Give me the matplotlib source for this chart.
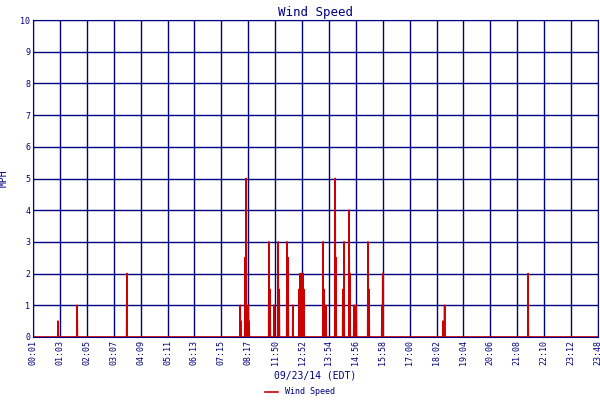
import matplotlib
matplotlib.use("Agg")
import matplotlib.pyplot as plt
import numpy as np

tick_labels = ["00:01","01:03","02:05","03:07","04:09","05:11","06:13","07:15","08:17",
               "11:50","12:52","13:54","14:56","15:58","17:00","18:02","19:04","20:06",
               "21:08","22:10","23:12","23:48"]
# spike positions (in tick-interval units) and speeds (MPH)
spike_pos = [0.93,1.64,3.49,7.70,7.73,7.88,7.92,8.00,8.03,8.77,8.81,8.96,9.11,9.15,
             9.44,9.48,9.66,9.89,9.93,10.00,10.04,10.07,10.78,10.82,10.89,11.23,11.26,
             11.52,11.56,11.75,11.78,11.93,12.01,12.45,12.49,12.97,13.00,15.24,15.30,18.40]
spike_val = [0.5,1.0,2.0,1.0,0.5,2.5,5.0,1.0,0.5,3.0,1.5,1.0,3.0,1.5,
             3.0,2.5,1.0,1.5,2.0,2.0,2.0,1.5,3.0,1.5,1.0,5.0,2.5,
             1.5,3.0,4.0,2.0,1.0,1.0,3.0,1.5,1.0,2.0,0.5,1.0,2.0]

xs=[0.0]; ys=[0.0]
for p,v in zip(spike_pos,spike_val):
    xs += [p-0.01,p,p+0.01]; ys += [0,v,0]
xs.append(len(tick_labels)-1); ys.append(0)

navy="#000080"; red="#cc0000"
fig=plt.figure(figsize=(6,4),dpi=100)
ax=fig.add_axes([33/600,1-337/400,565/600,317/400])
ax.plot(xs,ys,color=red,lw=1.2,label="Wind Speed")
ax.set_xlim(0,len(tick_labels)-1); ax.set_ylim(0,10)
ax.set_xticks(range(len(tick_labels)))
ax.set_xticklabels(tick_labels,rotation=90,fontsize=6,family="DejaVu Sans Mono",color=navy)
ax.set_yticks(range(11))
ax.set_yticklabels([str(i) for i in range(11)],fontsize=6,family="DejaVu Sans Mono",color=navy)
ax.grid(True,color=navy,lw=1)
for s in ax.spines.values(): s.set_color(navy)
ax.tick_params(length=0,pad=2)
ax.set_title("Wind Speed",color=navy,family="DejaVu Sans Mono",fontsize=9,pad=3)
ax.set_ylabel("MPH",color=navy,family="DejaVu Sans Mono",fontsize=7,labelpad=8)
ax.set_xlabel("09/23/14 (EDT)",color=navy,family="DejaVu Sans Mono",fontsize=7,labelpad=4)
fig.legend(loc="lower center",bbox_to_anchor=(0.5,-0.01),frameon=False,
           prop={"family":"DejaVu Sans Mono","size":6},handlelength=1.5,labelcolor=navy)
fig.savefig("out.png",dpi=100)
